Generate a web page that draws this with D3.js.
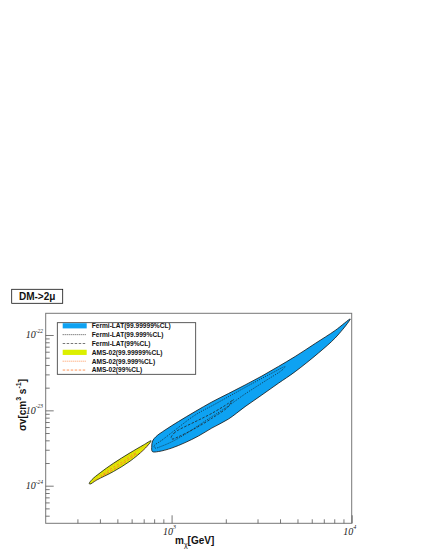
<!DOCTYPE html>
<html>
<head>
<meta charset="utf-8">
<script src="https://cdn.jsdelivr.net/npm/d3@7"></script>
<style>
html,body{margin:0;padding:0;background:#fff;}
svg{display:block;}
</style>
</head>
<body>
<svg id="chart" width="430" height="556"></svg>
<script>
// ---------------- data (mass in GeV, <sigma v> in cm^3 s^-1) ----------------
const fermi7sigma = [
  [776,3.36e-24],[784,3.91e-24],[820,4.49e-24],[920,5.48e-24],[1091,7.10e-24],
  [1351,9.64e-24],[1672,1.29e-23],[2068,1.67e-23],[2559,2.17e-23],[3170,2.85e-23],
  [3920,3.82e-23],[4853,5.18e-23],[6269,7.71e-23],[8093,1.148e-22],[9809,1.63e-22],
  [9600,1.49e-22],[8093,9.12e-23],[6540,5.77e-23],[4853,3.26e-23],[3920,2.29e-23],
  [3170,1.60e-23],[2559,1.12e-23],[2068,7.66e-24],[1672,5.82e-24],[1409,4.56e-24],
  [1188,3.73e-24],[1002,3.16e-24],[845,2.84e-24],[782,2.84e-24]
];
const fermi99999 = [
  [799,3.36e-24],[885,4.03e-24],[1046,5.48e-24],[1351,8.66e-24],[1744,1.21e-23],
  [2253,1.70e-23],[2910,2.38e-23],[3617,3.13e-23],[4272,3.82e-23],[4110,3.43e-23],
  [3307,2.45e-23],[2559,1.65e-23],[1983,1.07e-23],[1535,7.21e-24],[1267,5.31e-24],
  [1046,4.03e-24],[885,3.36e-24],[809,3.16e-24]
];
const fermi99 = [
  [994,4.35e-24],[1032,4.99e-24],[1091,5.48e-24],[1351,7.06e-24],[1672,9.12e-24],
  [2068,1.24e-23],[2204,1.39e-23],[2127,1.25e-23],[2068,1.12e-23],[1672,7.83e-24],
  [1351,5.77e-24],[1091,4.46e-24],[1006,4.16e-24]
];
const ams7sigma = [
  [349,1.07e-24],[362,1.21e-24],[401,1.48e-24],[475,1.98e-24],[588,2.73e-24],
  [697,3.46e-24],[769,3.95e-24],[760,3.74e-24],[697,2.97e-24],[588,2.12e-24],
  [475,1.54e-24],[384,1.19e-24],[352,1.05e-24]
];
const ams99999 = [
  [366,1.15e-24],[401,1.38e-24],[485,1.94e-24],[588,2.55e-24],[712,3.36e-24],
  [740,3.57e-24],[712,3.11e-24],[588,2.29e-24],[485,1.69e-24],[401,1.28e-24]
];
const ams99 = [
  [406,1.34e-24],[455,1.64e-24],[551,2.19e-24],[635,2.71e-24],[619,2.51e-24],
  [531,1.94e-24],[444,1.49e-24]
];
const xDomain = [200, 10000];
const yDomain = [3.17e-25, 1.94e-22];
const xMajorTicks = [1000, 10000];
const xMajorLabels = ["3", "4"];
const yMajorTicks = [1e-24, 1e-23, 1e-22];
const yMajorLabels = ["-24", "-23", "-22"];
const legendLabels = [
  "Fermi-LAT(99.99999%CL)", "Fermi-LAT(99.999%CL)", "Fermi-LAT(99%CL)",
  "AMS-02(99.99999%CL)", "AMS-02(99.999%CL)", "AMS-02(99%CL)"
];
const titleText = "DM->2\u03bc";

// ---------------- layout ----------------
const svg = d3.select("#chart");
const L = 45.7, R = 351.7, T = 313.3, B = 523.3;
const x = d3.scaleLog().domain(xDomain).range([L, R]);
const y = d3.scaleLog().domain(yDomain).range([B, T]);

const BLUE = "#0ea2f2", YELLOW = "#dcf000", ORANGE = "#ff7b2e";

// frame
svg.append("rect").attr("x", L).attr("y", T).attr("width", R - L).attr("height", B - T)
  .attr("fill", "#fff").attr("stroke", "#777").attr("stroke-width", 1);

// minor tick values
const xMinor = [];
[100, 1000].forEach(d => { for (let k = 2; k <= 9; k++) { const v = d * k; if (v > xDomain[0] && v < xDomain[1]) xMinor.push(v); } });
const yMinor = [];
[1e-25, 1e-24, 1e-23, 1e-22].forEach(d => { for (let k = 2; k <= 9; k++) { const v = d * k; if (v > yDomain[0] && v < yDomain[1]) yMinor.push(v); } });

function styleAxis(g) {
  g.select(".domain").remove();
  g.selectAll("line").attr("stroke", "#555").attr("stroke-width", 0.8);
  g.selectAll("text").remove();
}
svg.append("g").attr("transform", `translate(0,${B})`)
  .call(d3.axisBottom(x).tickValues(xMinor).tickSize(-4).tickFormat("")).call(styleAxis);
svg.append("g").attr("transform", `translate(0,${B})`)
  .call(d3.axisBottom(x).tickValues(xMajorTicks).tickSize(-8).tickFormat("")).call(styleAxis);
svg.append("g").attr("transform", `translate(${L},0)`)
  .call(d3.axisLeft(y).tickValues(yMinor).tickSize(-4).tickFormat("")).call(styleAxis);
svg.append("g").attr("transform", `translate(${L},0)`)
  .call(d3.axisLeft(y).tickValues(yMajorTicks).tickSize(-8).tickFormat("")).call(styleAxis);

// tick labels
const tickFont = "'Liberation Serif','DejaVu Serif',serif";
xMajorTicks.forEach((v, i) => {
  const t = svg.append("text").attr("x", x(v) - 2).attr("y", 535)
    .attr("text-anchor", "middle").attr("font-family", tickFont).attr("font-style", "italic")
    .attr("font-size", 10).attr("fill", "#222");
  t.append("tspan").text("10");
  t.append("tspan").attr("dy", -6).attr("font-size", 6).text(xMajorLabels[i]);
});
yMajorTicks.forEach((v, i) => {
  const t = svg.append("text").attr("x", 43).attr("y", y(v) + 3.5)
    .attr("text-anchor", "end").attr("font-family", tickFont).attr("font-style", "italic")
    .attr("font-size", 10).attr("fill", "#222");
  t.append("tspan").text("10");
  t.append("tspan").attr("dy", -5.5).attr("font-size", 5.5).text(yMajorLabels[i]);
});

// axis titles
const boldFont = "'Liberation Sans',Arial,Helvetica,sans-serif";
const xt = svg.append("text").attr("x", 175).attr("y", 543.5)
  .attr("font-family", boldFont).attr("font-weight", "bold").attr("font-size", 10).attr("fill", "#111");
xt.append("tspan").text("m");
xt.append("tspan").attr("dy", 3).attr("font-size", 7).attr("font-weight", "normal").text("\u03c7");
xt.append("tspan").attr("dy", -3).text("[GeV]");

const yt = svg.append("text").attr("transform", "translate(26,405) rotate(-90)")
  .attr("text-anchor", "middle")
  .attr("font-family", boldFont).attr("font-weight", "bold").attr("font-size", 10).attr("fill", "#111");
yt.append("tspan").text("\u03c3v[cm");
yt.append("tspan").attr("dy", -5).attr("font-size", 7).text("3");
yt.append("tspan").attr("dy", 5).text(" s");
yt.append("tspan").attr("dy", -5).attr("font-size", 7).text("-1");
yt.append("tspan").attr("dy", 5).text("]");

// contours
const line = d3.line().x(d => x(d[0])).y(d => y(d[1])).curve(d3.curveCatmullRomClosed.alpha(0.5));
const plot = svg.append("g");
plot.append("path").attr("d", line(fermi7sigma)).attr("fill", BLUE).attr("stroke", "#111").attr("stroke-width", 0.8);
plot.append("path").attr("d", line(fermi99999)).attr("fill", "none").attr("stroke", "#111").attr("stroke-width", 0.7).attr("stroke-dasharray", "1,1.2");
plot.append("path").attr("d", line(fermi99)).attr("fill", "none").attr("stroke", "#222").attr("stroke-width", 0.8).attr("stroke-dasharray", "2.5,1.5");
plot.append("path").attr("d", line(ams7sigma)).attr("fill", YELLOW).attr("stroke", "#111").attr("stroke-width", 0.8);
plot.append("path").attr("d", line(ams99999)).attr("fill", "none").attr("stroke", ORANGE).attr("stroke-width", 0.7).attr("stroke-dasharray", "1,1.2");
plot.append("path").attr("d", line(ams99)).attr("fill", "none").attr("stroke", ORANGE).attr("stroke-width", 0.9).attr("stroke-dasharray", "2.5,1.5");

// legend
const lg = svg.append("g");
lg.append("rect").attr("x", 57.3).attr("y", 322.7).attr("width", 138.4).attr("height", 51.6)
  .attr("fill", "#fff").attr("stroke", "#333").attr("stroke-width", 0.8);
const legendStyles = [
  {type: "fill", color: BLUE},
  {type: "line", color: "#222", dash: "1,1"},
  {type: "line", color: "#555", dash: "2.5,1.5"},
  {type: "fill", color: YELLOW},
  {type: "line", color: ORANGE, dash: "1,1"},
  {type: "line", color: ORANGE, dash: "2.5,1.5"}
];
legendLabels.forEach((lab, i) => {
  const cy = 325.8 + i * 8.85;
  const s = legendStyles[i];
  if (s.type === "fill") {
    lg.append("rect").attr("x", 62.7).attr("y", cy - 2.6).attr("width", 24).attr("height", 5.2).attr("fill", s.color);
  } else {
    lg.append("line").attr("x1", 62.7).attr("x2", 86.7).attr("y1", cy).attr("y2", cy)
      .attr("stroke", s.color).attr("stroke-width", 0.8).attr("stroke-dasharray", s.dash);
  }
  lg.append("text").attr("x", 91.7).attr("y", cy + 2.4).text(lab)
    .attr("font-family", boldFont).attr("font-weight", "bold").attr("font-size", 6.6).attr("fill", "#111");
});

// title box
svg.append("rect").attr("x", 11.7).attr("y", 289.3).attr("width", 51).attr("height", 14)
  .attr("fill", "#fff").attr("stroke", "#111").attr("stroke-width", 0.8);
svg.append("text").attr("x", 37.2).attr("y", 300).attr("text-anchor", "middle").text(titleText)
  .attr("font-family", boldFont).attr("font-weight", "bold").attr("font-size", 10).attr("fill", "#111");
</script>
</body>
</html>
